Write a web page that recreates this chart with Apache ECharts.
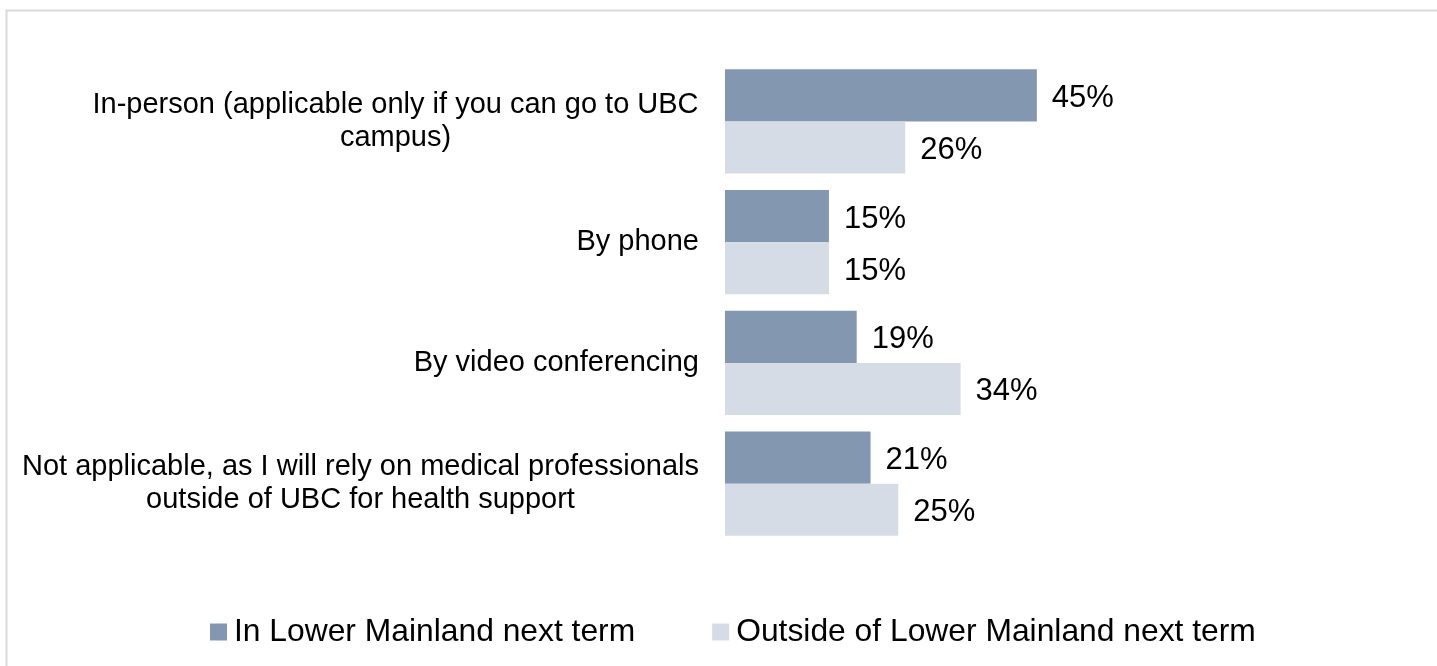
<!DOCTYPE html>
<html>
<head>
<meta charset="utf-8">
<script src="https://cdn.jsdelivr.net/npm/echarts@6/dist/echarts.min.js"></script>
<style>
  html, body { margin: 0; padding: 0; background: #fff; }
  #chart { width: 1437px; height: 666px; }
</style>
</head>
<body>
<div id="chart"></div>
<script>
// categories, top to bottom
const categories = [
  'In-person (applicable only if you can go to UBC\ncampus)',
  'By phone',
  'By video conferencing',
  'Not applicable, as I will rely on medical professionals\noutside of UBC for health support'
]
const seriesNames = ['In Lower Mainland next term', 'Outside of Lower Mainland next term']
const inLowerMainland = [45, 15, 19, 21]
const outsideLowerMainland = [26, 15, 34, 25]

const FONT = 'Liberation Sans, Arial, sans-serif'
const CAT_SIZE = 29

// wrapped labels: block sits right, lines are centred inside it
const ctx = document.createElement('canvas').getContext('2d')
ctx.font = CAT_SIZE + 'px ' + FONT
const rich = {}
categories.forEach((c, i) => {
  const w = Math.max(...c.split('\n').map(l => ctx.measureText(l).width))
  rich['c' + i] = { width: Math.ceil(w), align: 'center', fontSize: CAT_SIZE, lineHeight: 33, color: '#000', fontFamily: FONT }
})

const chart = echarts.init(document.getElementById('chart'))

const labelStyle = {
  show: true,
  position: 'right',
  distance: 15,
  offset: [0, 3],
  formatter: '{c}%',
  fontFamily: FONT,
  fontSize: 31,
  color: '#000'
}

chart.setOption({
  backgroundColor: '#fff',
  animation: false,
  textStyle: { fontFamily: FONT },
  graphic: [{
    type: 'rect',
    shape: { x: 6.5, y: 10.5, width: 1500, height: 700 },
    style: { fill: 'none', stroke: '#d9d9d9', lineWidth: 2 },
    silent: true
  }],
  grid: {
    left: 725,
    right: 19,
    top: 61,
    bottom: 122
  },
  legend: {
    data: seriesNames,
    left: 205,
    top: 611,
    icon: 'rect',
    itemWidth: 17,
    itemHeight: 17,
    itemGap: 77,
    textStyle: {
      fontSize: 31.8,
      color: '#000',
      padding: [0, 0, 0, 2]
    }
  },
  xAxis: {
    type: 'value',
    min: 0,
    max: 100,
    show: false,
    splitLine: { show: false }
  },
  yAxis: {
    type: 'category',
    inverse: true,
    data: categories,
    axisLine: { show: false },
    axisTick: { show: false },
    axisLabel: {
      margin: 26,
      fontSize: CAT_SIZE,
      lineHeight: 33,
      color: '#000',
      align: 'right',
      formatter: (value, idx) => {
        if (value.indexOf('\n') < 0) return value
        return value.split('\n').map(l => '{c' + idx + '|' + l + '}').join('\n')
      },
      rich: rich
    }
  },
  series: [{
    name: seriesNames[0],
    type: 'bar',
    barGap: '0%',
    barCategoryGap: '13.8%',
    itemStyle: { color: '#8497b0' },
    label: labelStyle,
    data: inLowerMainland
  }, {
    name: seriesNames[1],
    type: 'bar',
    barGap: '0%',
    barCategoryGap: '13.8%',
    itemStyle: { color: '#d6dce5' },
    label: labelStyle,
    data: outsideLowerMainland
  }]
})
</script>
</body>
</html>
